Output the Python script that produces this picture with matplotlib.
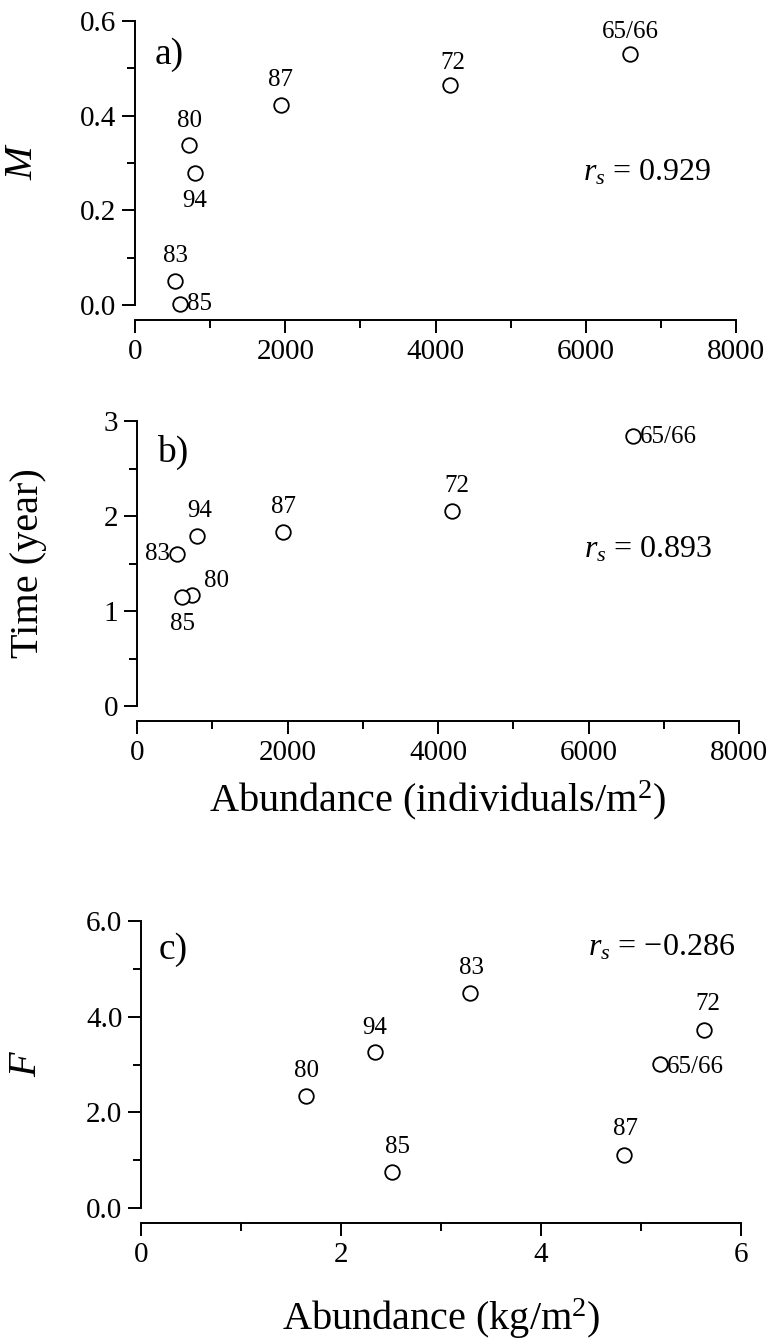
import numpy as np
import matplotlib
matplotlib.use("Agg")
import matplotlib.pyplot as plt
from matplotlib.ticker import MultipleLocator, FormatStrFormatter

plt.rcParams['font.family'] = ['Liberation Serif', 'DejaVu Serif']
plt.rcParams['mathtext.fontset'] = 'custom'
plt.rcParams['mathtext.rm'] = 'Liberation Serif'
plt.rcParams['mathtext.it'] = 'Liberation Serif:italic'

# year-class labels
years = ['65/66', '72', '87', '80', '94', '83', '85']
# abundance in individuals/m2 (panels a and b)
abund_ind = [6595, 4190, 1940, 724, 793, 537, 603]
# abundance in kg/m2 (panel c)
abund_kg = [5.19, 5.63, 4.83, 1.65, 2.34, 3.29, 2.51]
M_vals = [0.530, 0.464, 0.422, 0.338, 0.279, 0.051, 0.002]
time_vals = [2.845, 2.058, 1.830, 1.166, 1.785, 1.600, 1.145]
F_vals = [3.01, 3.72, 1.10, 2.35, 3.27, 4.50, 0.76]

# label offsets (points) for each point in each panel
off_a = {'65/66': (0, 16, 'center'), '72': (2, 16, 'center'), '87': (0, 18, 'center'),
         '80': (0, 17, 'center'), '94': (0, -20, 'center'), '83': (0, 18, 'center'),
         '85': (5, 0, 'left')}
off_b = {'65/66': (5, -1, 'left'), '72': (3, 18, 'center'), '87': (0, 18, 'center'),
         '94': (2, 18, 'center'), '83': (-5, 0, 'right'), '80': (18, 10, 'center'),
         '85': (0, -19, 'center')}
off_c = {'65/66': (5, -2, 'left'), '72': (3, 19, 'center'), '87': (1, 19, 'center'),
         '94': (0, 17, 'center'), '83': (1, 18, 'center'), '80': (0, 18, 'center'),
         '85': (4, 18, 'center')}

fig = plt.figure(figsize=(7.69, 13.43), dpi=100)

def style_axes(ax, xmax, xmaj, ymax, ymaj, yfmt):
    ax.set_xlim(0, xmax)
    ax.set_ylim(0, ymax)
    ax.spines['top'].set_visible(False)
    ax.spines['right'].set_visible(False)
    ax.spines['bottom'].set_position(('outward', 11))
    for s in ['left', 'bottom']:
        ax.spines[s].set_linewidth(1.4)
    ax.xaxis.set_major_locator(MultipleLocator(xmaj))
    ax.xaxis.set_minor_locator(MultipleLocator(xmaj / 2))
    ax.yaxis.set_major_locator(MultipleLocator(ymaj))
    ax.yaxis.set_minor_locator(MultipleLocator(ymaj / 2))
    ax.yaxis.set_major_formatter(FormatStrFormatter(yfmt))
    ax.tick_params(which='major', direction='out', length=9.5, width=1.4, labelsize=21, pad=4)
    ax.tick_params(which='minor', direction='out', length=6, width=1.4)

def scatter_labels(ax, xs, ys, offs):
    ax.plot(xs, ys, 'o', mfc='white', mec='black', ms=10.5, mew=1.3, clip_on=False, zorder=3)
    for x, y, lab in zip(xs, ys, years):
        dx, dy, ha = offs[lab]
        ax.annotate(lab, (x, y), xytext=(dx, dy), textcoords='offset points',
                    ha=ha, va='center', fontsize=18)

# panel a
ax1 = fig.add_axes([0.1756, 0.7729, 0.7815, 0.2115])
style_axes(ax1, 8000, 2000, 0.6, 0.2, '%.1f')
scatter_labels(ax1, abund_ind, M_vals, off_a)
ax1.set_ylabel('M', style='italic', fontsize=29)
ax1.yaxis.set_label_coords(-0.155, 0.5)
ax1.text(0.033, 0.88, 'a)', transform=ax1.transAxes, fontsize=27, va='center')
ax1.text(0.745, 0.465, r'$r_s$ = 0.929', transform=ax1.transAxes, fontsize=23, va='center')

# panel b
ax2 = fig.add_axes([0.1782, 0.4743, 0.7828, 0.2122])
style_axes(ax2, 8000, 2000, 3, 1, '%d')
scatter_labels(ax2, abund_ind, time_vals, off_b)
ax2.set_ylabel('Time (year)', fontsize=29)
ax2.yaxis.set_label_coords(-0.15, 0.5)
ax2.set_xlabel('Abundance (individuals/m$^2$)', fontsize=29)
ax2.xaxis.set_label_coords(0.5, -0.255)
ax2.text(0.033, 0.89, 'b)', transform=ax2.transAxes, fontsize=27, va='center')
ax2.text(0.742, 0.547, r'$r_s$ = 0.893', transform=ax2.transAxes, fontsize=23, va='center')

# panel c
ax3 = fig.add_axes([0.1834, 0.1005, 0.7802, 0.2137])
style_axes(ax3, 6, 2, 6, 2, '%.1f')
scatter_labels(ax3, abund_kg, F_vals, off_c)
ax3.set_ylabel('F', style='italic', fontsize=29)
ax3.yaxis.set_label_coords(-0.16, 0.5)
ax3.set_xlabel('Abundance (kg/m$^2$)', fontsize=29)
ax3.xaxis.set_label_coords(0.5, -0.31)
ax3.text(0.03, 0.9, 'c)', transform=ax3.transAxes, fontsize=27, va='center')
ax3.text(0.745, 0.906, '$r_s$ = \u22120.286', transform=ax3.transAxes, fontsize=23, va='center')

fig.savefig('out.png', dpi=100)
